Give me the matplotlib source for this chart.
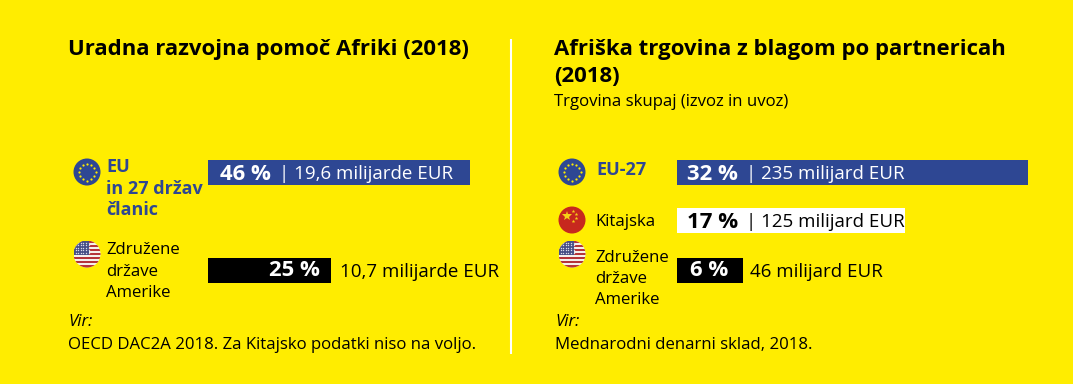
import numpy as np
import matplotlib
matplotlib.use('Agg')
import matplotlib.pyplot as plt
from matplotlib.patches import Circle, Rectangle

plt.rcParams['font.family'] = ['Open Sans', 'DejaVu Sans']

YELLOW = '#FFED00'
BLUE = '#2E4793'
RED = '#C7281E'

W, H = 1073, 384

# bar lengths as drawn in the source, in percent units of each panel (not proportional everywhere)
left_shares = ['46 %', '25 %']
left_lengths = [46, 21.6]
left_amounts = ['| 19,6 milijarde EUR', '10,7 milijarde EUR']

right_shares = ['32 %', '17 %', '6 %']
right_lengths = [32, 20.8, 6]
right_amounts = ['| 235 milijard EUR', '| 125 milijard EUR', '46 milijard EUR']


def px_axes(fig, x0, y0, x1, y1):
	return fig.add_axes([x0 / W, 1 - y1 / H, (x1 - x0) / W, (y1 - y0) / H])


def eu_flag(ax, cx, cy, r=13.5):
	ax.add_patch(Circle((cx, cy), r, color=BLUE, lw=0))
	for a in np.arange(12) * np.pi / 6:
		ax.plot(cx + 8.5 * np.cos(a), cy + 8.5 * np.sin(a), marker='o', ms=1.6, color=YELLOW, mew=0)


def us_flag(ax, cx, cy, r=13.5):
	clip = Circle((cx, cy), r, transform=ax.transData, fc='none', lw=0)
	ax.add_patch(clip)
	ax.add_patch(Rectangle((cx - r, cy - r), 2 * r, 2 * r, color='#F4F0EC', lw=0, clip_path=clip))
	for i in range(0, 13, 2):
		s = 2 * r / 13
		ax.add_patch(Rectangle((cx - r, cy - r + i * s), 2 * r, s, color='#B5343A', lw=0, clip_path=clip))
	ax.add_patch(Rectangle((cx - r, cy - r), r * 1.15, r * 1.08, color='#474F86', lw=0, clip_path=clip))
	for i in range(6):
		for j in range(5):
			p, = ax.plot(cx - r + 2 + i * 2.6, cy - r + 2 + j * 2.6, marker='o', ms=1, color='#D8DAE8', mew=0)
			p.set_clip_path(clip)


def cn_flag(ax, cx, cy, r=13.5):
	ax.add_patch(Circle((cx, cy), r, color=RED, lw=0))
	ax.plot(cx - 5, cy - 4, marker='*', ms=7, color='#F7D117', mew=0)
	for dx, dy in [(1, -9), (4, -6), (4, -2), (1, 1)]:
		ax.plot(cx + dx, cy + dy, marker='*', ms=2.8, color='#F7D117', mew=0)


fig = plt.figure(figsize=(W / 100, H / 100), dpi=100, facecolor=YELLOW)

# overlay in pixel coordinates for text and flags
ov = fig.add_axes([0, 0, 1, 1])
ov.set_xlim(0, W)
ov.set_ylim(H, 0)
ov.axis('off')

ax_l = px_axes(fig, 208, 160, 470, 283)
ax_l.barh([0, 1], left_lengths, height=0.26, color=[BLUE, 'black'])
ax_l.set_xlim(0, 46)
ax_l.set_ylim(1.13, -0.13)
ax_l.axis('off')

ax_r = px_axes(fig, 677, 160, 1028, 283)
ax_r.barh([0, 0.975, 2], right_lengths, height=0.52, color=[BLUE, 'white', 'black'])
ax_r.set_xlim(0, 32)
ax_r.set_ylim(2.26, -0.26)
ax_r.axis('off')

ov.set_zorder(5)

TITLE = 15.9
BODY = 12.1
AMOUNT = 13.5
LABEL_BOLD = 13.0
DY = 2  # va='center' sits a bit high for this font


def body(x, y, s, **kw):
	kw.setdefault('fontsize', BODY)
	ov.text(x, y + DY, s, va='center', ha=kw.pop('ha', 'left'), **kw)


def title(x, y, s):
	ov.text(x, y + DY, s, va='center', ha='left', fontsize=TITLE, fontweight='bold', color='black')


title(68, 48, 'Uradna razvojna pomoč Afriki (2018)')
title(554, 48, 'Afriška trgovina z blagom po partnericah')
title(554, 75, '(2018)')
body(554, 100, 'Trgovina skupaj (izvoz in uvoz)')

# divider
ov.plot([511, 511], [39, 354], color='white', lw=1.5, solid_capstyle='butt')

# left panel rows
eu_flag(ov, 87, 172)
us_flag(ov, 87, 254)
for y, s in zip([165, 187, 208], ['EU', 'in 27 držav', 'članic']):
	body(106, y, s, color=BLUE, fontweight='bold', fontsize=LABEL_BOLD)
for y, s in zip([248, 270, 291], ['Združene', 'države', 'Amerike']):
	body(106, y, s, color='black')

body(220, 172, left_shares[0], color='white', fontweight='bold', fontsize=TITLE)
body(279, 172, left_amounts[0], color='white', fontsize=AMOUNT)
body(320, 269, left_shares[1], color='white', fontweight='bold', fontsize=TITLE, ha='right')
body(340, 270, left_amounts[1], color='black', fontsize=AMOUNT)

# right panel rows
eu_flag(ov, 572, 172)
cn_flag(ov, 572, 220)
us_flag(ov, 572, 254)
body(596, 168, 'EU-27', color=BLUE, fontweight='bold', fontsize=LABEL_BOLD)
body(595, 220, 'Kitajska', color='black')
for y, s in zip([256, 277, 298], ['Združene', 'države', 'Amerike']):
	body(595, y, s, color='black')

body(687, 172, right_shares[0], color='white', fontweight='bold', fontsize=TITLE)
body(746, 172, right_amounts[0], color='white', fontsize=AMOUNT)
body(687, 220, right_shares[1], color='black', fontweight='bold', fontsize=TITLE)
body(746, 220, right_amounts[1], color='black', fontsize=AMOUNT)
body(690, 269, right_shares[2], color='white', fontweight='bold', fontsize=TITLE)
body(750, 270, right_amounts[2], color='black', fontsize=AMOUNT)

# sources
body(68, 320, 'Vir:', style='italic')
body(68, 343, 'OECD DAC2A 2018. Za Kitajsko podatki niso na voljo.')
body(555, 320, 'Vir:', style='italic')
body(555, 343, 'Mednarodni denarni sklad, 2018.')

fig.savefig('out.png', dpi=100, facecolor=YELLOW)
